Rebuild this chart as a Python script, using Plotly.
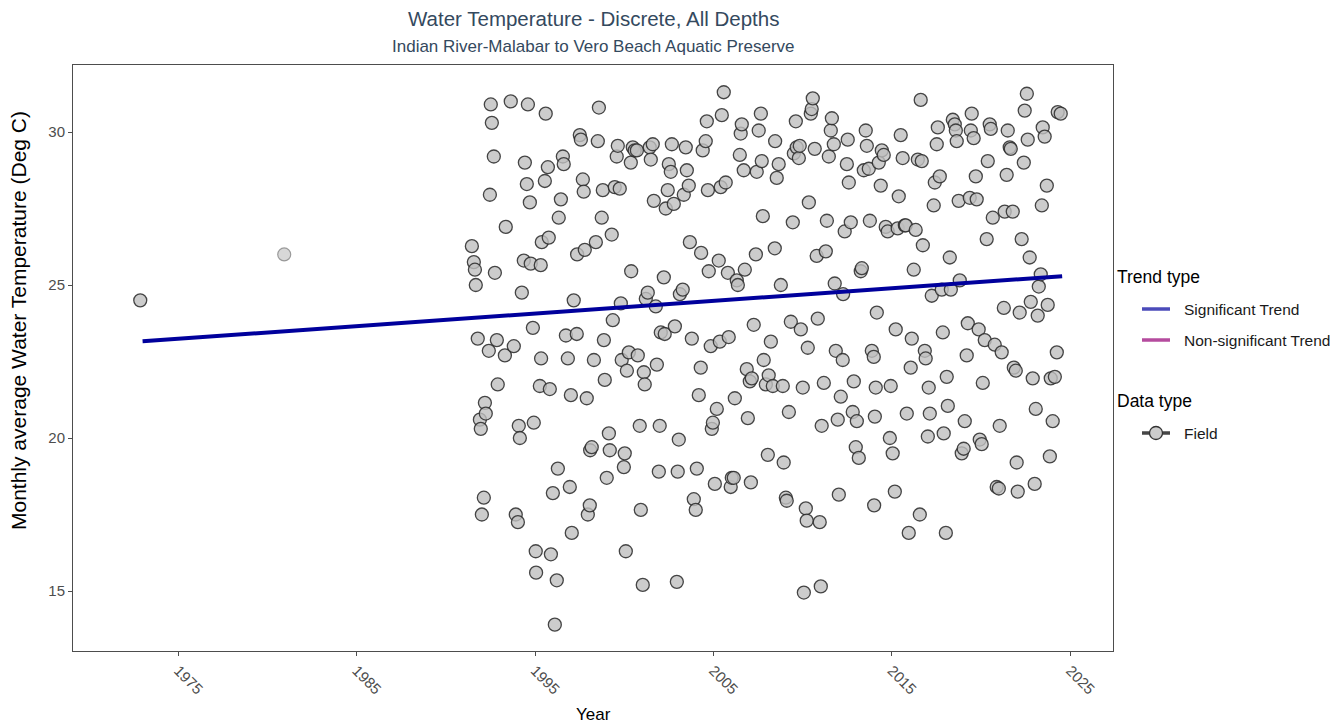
import plotly.graph_objects as go

# ---- data (decimal year, monthly average water temperature, deg C) ----
early_years = [1972.87]
early_temps = [24.5]
faded_years = [1980.94]
faded_temps = [26.0]

years = [
 1991.46,1991.57,1991.63,1991.68,1991.79,1991.91,1991.96,1992.13,1992.02,1992.19,1992.24,1992.41,1992.47,1992.52,1992.58,
 1992.69,1992.75,1992.86,1992.91,1993.31,1993.36,1993.64,1993.81,1993.92,1994.04,1994.09,1994.15,1994.26,1994.37,1994.43,
 1994.54,1994.60,1994.71,1994.76,1994.88,1994.93,1995.04,1995.06,1995.27,1995.32,1995.34,1995.38,1995.55,1995.60,1995.72,
 1995.77,1995.83,1995.89,1996.00,1996.11,1996.22,1996.28,1996.33,1996.45,1996.56,1996.61,1996.73,1996.84,1996.95,1997.01,
 1997.06,1997.17,1997.34,1997.36,1997.51,1997.57,1997.68,1997.73,1997.79,1997.90,1997.96,1998.07,1998.09,1998.18,1998.30,
 1998.41,1998.52,1998.58,1998.74,1998.80,1998.86,1998.91,1999.02,1999.14,1999.19,1999.30,1999.36,1999.47,1999.58,1999.64,
 1999.75,1999.81,1999.86,1999.98,2000.03,2000.09,2000.15,2000.26,2000.37,2000.39,2000.48,2000.59,2000.71,2000.76,2000.87,
 2000.93,2001.04,2001.10,2001.15,2001.21,2001.32,2001.43,2001.49,2001.60,2001.66,2001.77,2001.83,2001.94,2001.99,2002.05,
 2002.22,2002.27,2002.33,2002.44,2002.50,2002.61,2002.67,2002.78,2002.84,2002.95,2003.00,2003.06,2003.12,2003.28,2003.34,
 2003.45,2003.51,2003.62,2003.68,2003.79,2003.90,2004.01,2004.07,2004.18,2004.29,2004.31,2004.40,2004.57,2004.63,2004.69,
 2004.74,2004.85,2004.91,2004.97,2005.08,2005.19,2005.30,2005.36,2005.41,2005.47,2005.58,2005.69,2005.81,2005.86,2005.97,
 2006.03,2006.14,2006.20,2006.31,2006.37,2006.48,2006.53,2006.59,2006.70,2006.76,2006.87,2006.93,2007.04,2007.10,2007.15,
 2007.26,2007.38,2007.43,2007.54,2007.66,2007.71,2007.77,2007.82,2007.94,2008.05,2008.10,2008.22,2008.33,2008.44,2008.46,
 2008.55,2008.66,2008.78,2008.89,2008.94,2009.06,2009.11,2009.23,2009.34,2009.45,2009.51,2009.62,2009.67,2009.79,2009.84,
 2009.90,2010.01,2010.07,2010.18,2010.23,2010.29,2010.35,2010.46,2010.51,2010.57,2010.68,2010.79,2010.85,2010.96,2011.02,
 2011.07,2011.19,2011.30,2011.36,2011.47,2011.58,2011.64,2011.75,2011.80,2011.86,2011.97,2012.03,2012.14,2012.25,2012.27,
 2012.36,2012.48,2012.53,2012.59,2012.70,2012.81,2012.87,2012.98,2013.04,2013.15,2013.26,2013.32,2013.43,2013.54,2013.60,
 2013.71,2013.77,2013.88,2013.99,2014.01,2014.05,2014.10,2014.16,2014.27,2014.38,2014.44,2014.55,2014.66,2014.77,2014.89,
 2014.94,2015.05,2015.17,2015.22,2015.33,2015.39,2015.50,2015.61,2015.73,2015.78,2015.84,2015.95,2016.06,2016.12,2016.23,
 2016.34,2016.46,2016.57,2016.62,2016.68,2016.74,2016.85,2016.90,2017.02,2017.07,2017.13,2017.24,2017.35,2017.41,2017.52,
 2017.58,2017.69,2017.80,2017.86,2017.91,2018.03,2018.08,2018.14,2018.25,2018.31,2018.42,2018.53,2018.59,2018.64,2018.75,
 2018.81,2018.92,2019.03,2019.09,2019.20,2019.26,2019.37,2019.43,2019.48,2019.59,2019.71,2019.76,2019.87,2019.93,2020.04,
 2020.10,2020.21,2020.32,2020.38,2020.49,2020.55,2020.66,2020.77,2020.88,2021.00,2021.05,2021.16,2021.28,2021.33,2021.44,
 2021.50,2021.61,2021.67,2021.78,2021.84,2021.95,2022.00,2022.06,2022.17,2022.28,2022.40,2022.45,2022.57,2022.62,2022.73,
 2022.79,2022.90,2023.01,2023.07,2023.18,2023.24,2023.35,2023.41,2023.46,2023.57,2023.69,2023.74,2023.86,2023.91,2024.02,
 2024.14,2024.25,2024.30,2024.47,
]
temps = [
 26.27,25.75,25.5,25.0,23.25,20.6,20.3,18.05,17.5,21.15,20.8,22.85,27.95,30.9,30.3,
 29.2,25.4,23.2,21.75,22.7,26.9,31.0,23.0,17.5,17.25,20.4,20.0,24.75,25.8,29.0,
 28.3,30.9,27.7,25.7,23.6,20.5,16.3,15.6,21.7,25.65,22.6,26.4,28.4,30.6,28.85,
 26.55,21.6,16.2,18.2,13.9,15.35,19.0,27.2,27.8,29.2,28.95,23.35,22.6,18.4,21.4,
 16.9,24.5,23.4,26.0,29.9,29.75,28.45,28.05,26.15,21.3,17.5,17.8,19.6,19.7,22.55,
 26.4,29.7,30.8,27.2,28.1,23.2,21.9,18.7,20.15,19.6,26.65,23.85,28.2,29.2,29.55,
 28.15,24.4,22.55,19.05,19.5,16.3,22.2,22.8,29.0,25.45,29.5,29.4,29.4,22.7,20.4,
 17.65,15.2,22.15,21.75,24.55,24.75,29.5,29.1,29.6,27.75,24.3,22.4,18.9,20.4,23.45,
 25.25,23.4,27.5,28.1,28.95,28.7,29.6,27.65,23.65,15.3,18.9,19.95,24.7,24.85,27.95,
 29.5,28.75,28.25,26.4,23.25,18.0,17.65,19.0,21.4,22.3,26.05,29.4,29.7,30.35,28.1,
 25.45,23.0,20.3,20.5,18.5,20.95,25.8,23.15,28.2,30.55,31.3,28.35,25.4,23.3,18.4,
 18.7,18.7,21.3,25.15,25.0,29.25,29.95,30.25,28.75,25.5,22.25,20.65,21.85,18.55,21.95,
 23.7,26.0,28.7,30.05,30.6,29.05,27.25,22.55,21.75,19.45,22.05,23.15,21.7,26.2,29.7,
 28.5,28.95,25.0,21.7,19.2,18.05,17.95,20.85,23.8,27.05,29.3,30.35,29.5,29.15,29.55,
 23.55,21.65,14.95,17.7,17.3,22.95,27.7,30.6,30.75,31.1,29.45,25.95,23.9,17.25,15.15,
 20.4,21.8,26.1,27.1,29.2,30.05,30.45,29.6,25.05,22.85,20.6,18.15,21.35,22.55,24.7,
 26.75,28.95,29.75,28.35,27.05,20.85,21.85,19.7,20.55,19.35,25.45,25.55,28.75,30.05,29.55,
 28.8,27.1,22.85,22.65,17.8,20.7,21.65,24.1,29.0,28.25,29.4,29.25,26.9,26.75,20.0,
 21.7,19.5,18.25,23.55,26.85,27.9,29.9,29.15,26.95,26.95,20.8,16.9,22.3,23.25,25.5,
 26.8,29.1,17.5,31.05,29.05,26.3,22.85,22.6,20.05,21.65,20.8,24.65,27.6,28.35,29.6,
 30.15,28.55,24.85,23.45,20.15,16.9,22.0,21.05,25.9,24.85,30.4,30.25,30.05,29.7,27.75,
 25.15,19.5,19.65,20.55,22.7,23.75,27.85,30.05,30.6,29.8,28.55,27.8,23.55,19.95,19.8,
 21.8,23.2,26.5,29.05,30.25,30.1,27.2,23.05,18.4,18.35,20.4,22.8,24.25,27.4,28.6,
 30.05,29.5,29.45,27.4,22.3,22.2,19.2,18.25,24.1,26.5,29.0,30.7,31.25,29.75,25.9,
 24.45,21.95,18.5,20.95,24.0,24.95,25.35,27.6,30.15,29.85,28.25,24.35,19.4,21.95,20.55,
 22.0,22.8,30.65,30.6,
]

trend_years = [1973.0, 2024.55]
trend_temps = [23.16, 25.29]

x_ticks = [1975, 1985, 1995, 2005, 2015, 2025]
y_ticks = [15, 20, 25, 30]

legend_trend_names = ["Significant Trend", "Non-significant Trend"]
legend_trend_colors = ["rgba(60,60,180,0.92)", "rgba(175,60,150,0.92)"]
legend_data_names = ["Field"]

FONT = "Liberation Sans, Arial, sans-serif"
pt_fill = "rgba(191,191,191,0.8)"
pt_line = "rgba(40,40,40,0.85)"

# plot-area geometry (px, figure frame)
W, H = 1335, 720
ML, MT, PW, PH = 65, 57, 1040, 586
MR, MB = W - ML - PW, H - MT - PH


def px_x(p):  # figure px -> paper x
    return (p - ML) / PW


def px_y(p):  # figure px -> paper y
    return (MT + PH - p) / PH


fig = go.Figure()

fig.add_trace(go.Scatter(
    x=faded_years, y=faded_temps, mode="markers", showlegend=False,
    marker=dict(size=13, color="rgba(200,200,200,0.7)",
                line=dict(color="rgba(120,120,120,0.7)", width=1.2)),
    hoverinfo="skip"))
fig.add_trace(go.Scatter(
    x=early_years + years, y=early_temps + temps, mode="markers", showlegend=False,
    marker=dict(size=13, color=pt_fill, line=dict(color=pt_line, width=1.3))))
fig.add_trace(go.Scatter(
    x=trend_years, y=trend_temps, mode="lines", showlegend=False,
    line=dict(color="#00009C", width=4)))

axis_common = dict(
    showline=True, mirror=True, linecolor="#4d4d4d", linewidth=1,
    showgrid=False, zeroline=False,
    ticks="outside", ticklen=4, tickcolor="#4d4d4d",
    tickfont=dict(family=FONT, size=15, color="#4d4d4d"),
)

fig.update_xaxes(range=[1969.1, 2027.4], tickvals=x_ticks,
                 ticktext=[str(v) for v in x_ticks], tickangle=45, **axis_common)
fig.update_yaxes(range=[13.04, 32.19], tickvals=y_ticks, **axis_common)

annotations = [
    dict(text="Water Temperature - Discrete, All Depths", x=0.5, y=px_y(11),
         xanchor="center", yanchor="middle", font=dict(size=20.5, color="#34495E")),
    dict(text="Indian River-Malabar to Vero Beach Aquatic Preserve", x=0.5, y=px_y(39),
         xanchor="center", yanchor="middle", font=dict(size=17, color="#34495E")),
    dict(text="Year", x=0.5, y=px_y(706), xanchor="center", yanchor="middle",
         font=dict(size=17, color="#000000")),
    dict(text="Monthly average Water Temperature (Deg C)", x=px_x(10), y=px_y(313),
         xanchor="center", yanchor="middle", textangle=-90,
         font=dict(size=21, color="#000000")),
    dict(text="Trend type", x=px_x(1107), y=px_y(269), xanchor="left", yanchor="middle",
         font=dict(size=17.5, color="#000000")),
    dict(text="Data type", x=px_x(1107), y=px_y(393), xanchor="left", yanchor="middle",
         font=dict(size=17.5, color="#000000")),
]
shapes = []
trend_rows = [301, 332]
for name, col, row in zip(legend_trend_names, legend_trend_colors, trend_rows):
    shapes.append(dict(type="line", xref="paper", yref="paper",
                       x0=px_x(1134), x1=px_x(1162), y0=px_y(row), y1=px_y(row),
                       line=dict(color=col, width=3.5)))
    annotations.append(dict(text=name, x=px_x(1174), y=px_y(row), xanchor="left",
                            yanchor="middle", font=dict(size=15.5, color="#1a1a1a")))
data_rows = [425]
for name, row in zip(legend_data_names, data_rows):
    shapes.append(dict(type="line", xref="paper", yref="paper",
                       x0=px_x(1134), x1=px_x(1162), y0=px_y(row), y1=px_y(row),
                       line=dict(color="rgba(50,50,50,0.9)", width=3.5)))
    shapes.append(dict(type="circle", xref="paper", yref="paper",
                       xsizemode="pixel", ysizemode="pixel",
                       xanchor=px_x(1148), yanchor=px_y(row),
                       x0=-6.5, x1=6.5, y0=-6.5, y1=6.5,
                       fillcolor="rgb(204,204,204)", line=dict(color="rgb(50,50,50)", width=1.3)))
    annotations.append(dict(text=name, x=px_x(1174), y=px_y(row), xanchor="left",
                            yanchor="middle", font=dict(size=15.5, color="#1a1a1a")))

for a in annotations:
    a.update(xref="paper", yref="paper", showarrow=False)
    a["font"]["family"] = FONT

fig.update_layout(
    width=W, height=H,
    margin=dict(l=ML, r=MR, t=MT, b=MB),
    paper_bgcolor="white", plot_bgcolor="white",
    font=dict(family=FONT, size=14, color="#000000"),
    showlegend=False,
    annotations=annotations, shapes=shapes,
)

fig.write_html("out.html")
